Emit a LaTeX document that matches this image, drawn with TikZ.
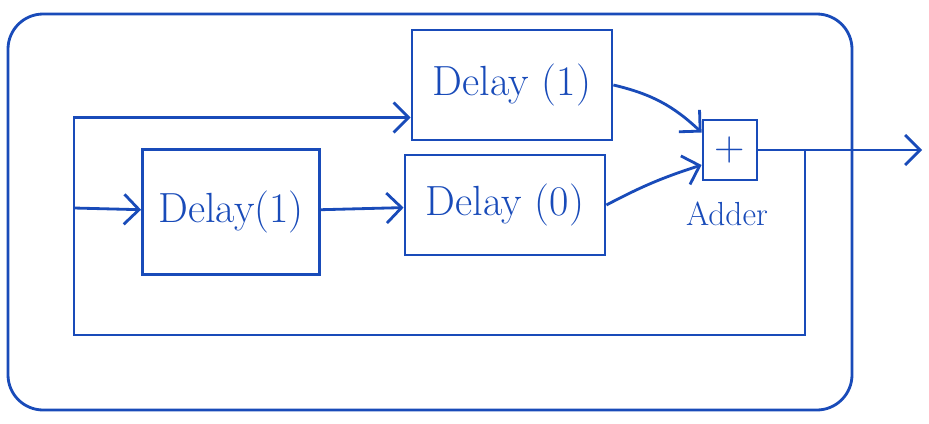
\documentclass[tikz,border=0pt]{standalone}
\usetikzlibrary{arrows.meta}
\definecolor{ink}{RGB}{25,75,185}

\begin{document}
\begin{tikzpicture}[x=0.2mm,y=-0.2mm,color=ink,line width=1.6pt,
    block/.style={draw,minimum width=#1,minimum height=2.2cm,font=\fontsize{24}{28}\selectfont},
    flow/.style={-{Straight Barb[length=3mm,width=6mm]}}]
  \useasboundingbox (0,0) rectangle (929,423);
  % outer frame
  \draw[rounded corners=20] (8,14) rectangle (852,410);
  % blocks
  \node[block=3.54cm,minimum height=2.5cm] (delayA) at (231,212) {Delay(1)};
  \node[block=4cm] (delayB) at (512,85) {Delay (1)};
  \node[block=4cm,minimum height=2cm] (delayC) at (505,205) {Delay (0)};
  \node[draw,minimum width=1.08cm,minimum height=1.2cm,font=\fontsize{24}{28}\selectfont] (adder) at (730,150) {+};
  \node[font=\fontsize{19}{22}\selectfont] (adderlabel) at (727,214) {Adder};
  \coordinate (out) at (922,150);
  \coordinate (split) at (74,208);
  \coordinate (tap) at (805,150);
  % connections
  \draw[flow] (split) -- (delayA);
  \draw[flow] (split) |- ([yshift=-0.65cm]delayB.west);
  \draw[flow] (delayA) -- (delayC);
  \draw[flow] (delayB.east) to[bend left=15] ([yshift=0.35cm]adder.west);
  \draw[flow] (delayC.east) to[bend left=5] ([yshift=-0.3cm]adder.west);
  \draw[flow] (adder) -- (out);
  % feedback
  \draw (tap) -- (tap |- 0,335) -| (split);
\end{tikzpicture}
\end{document}
